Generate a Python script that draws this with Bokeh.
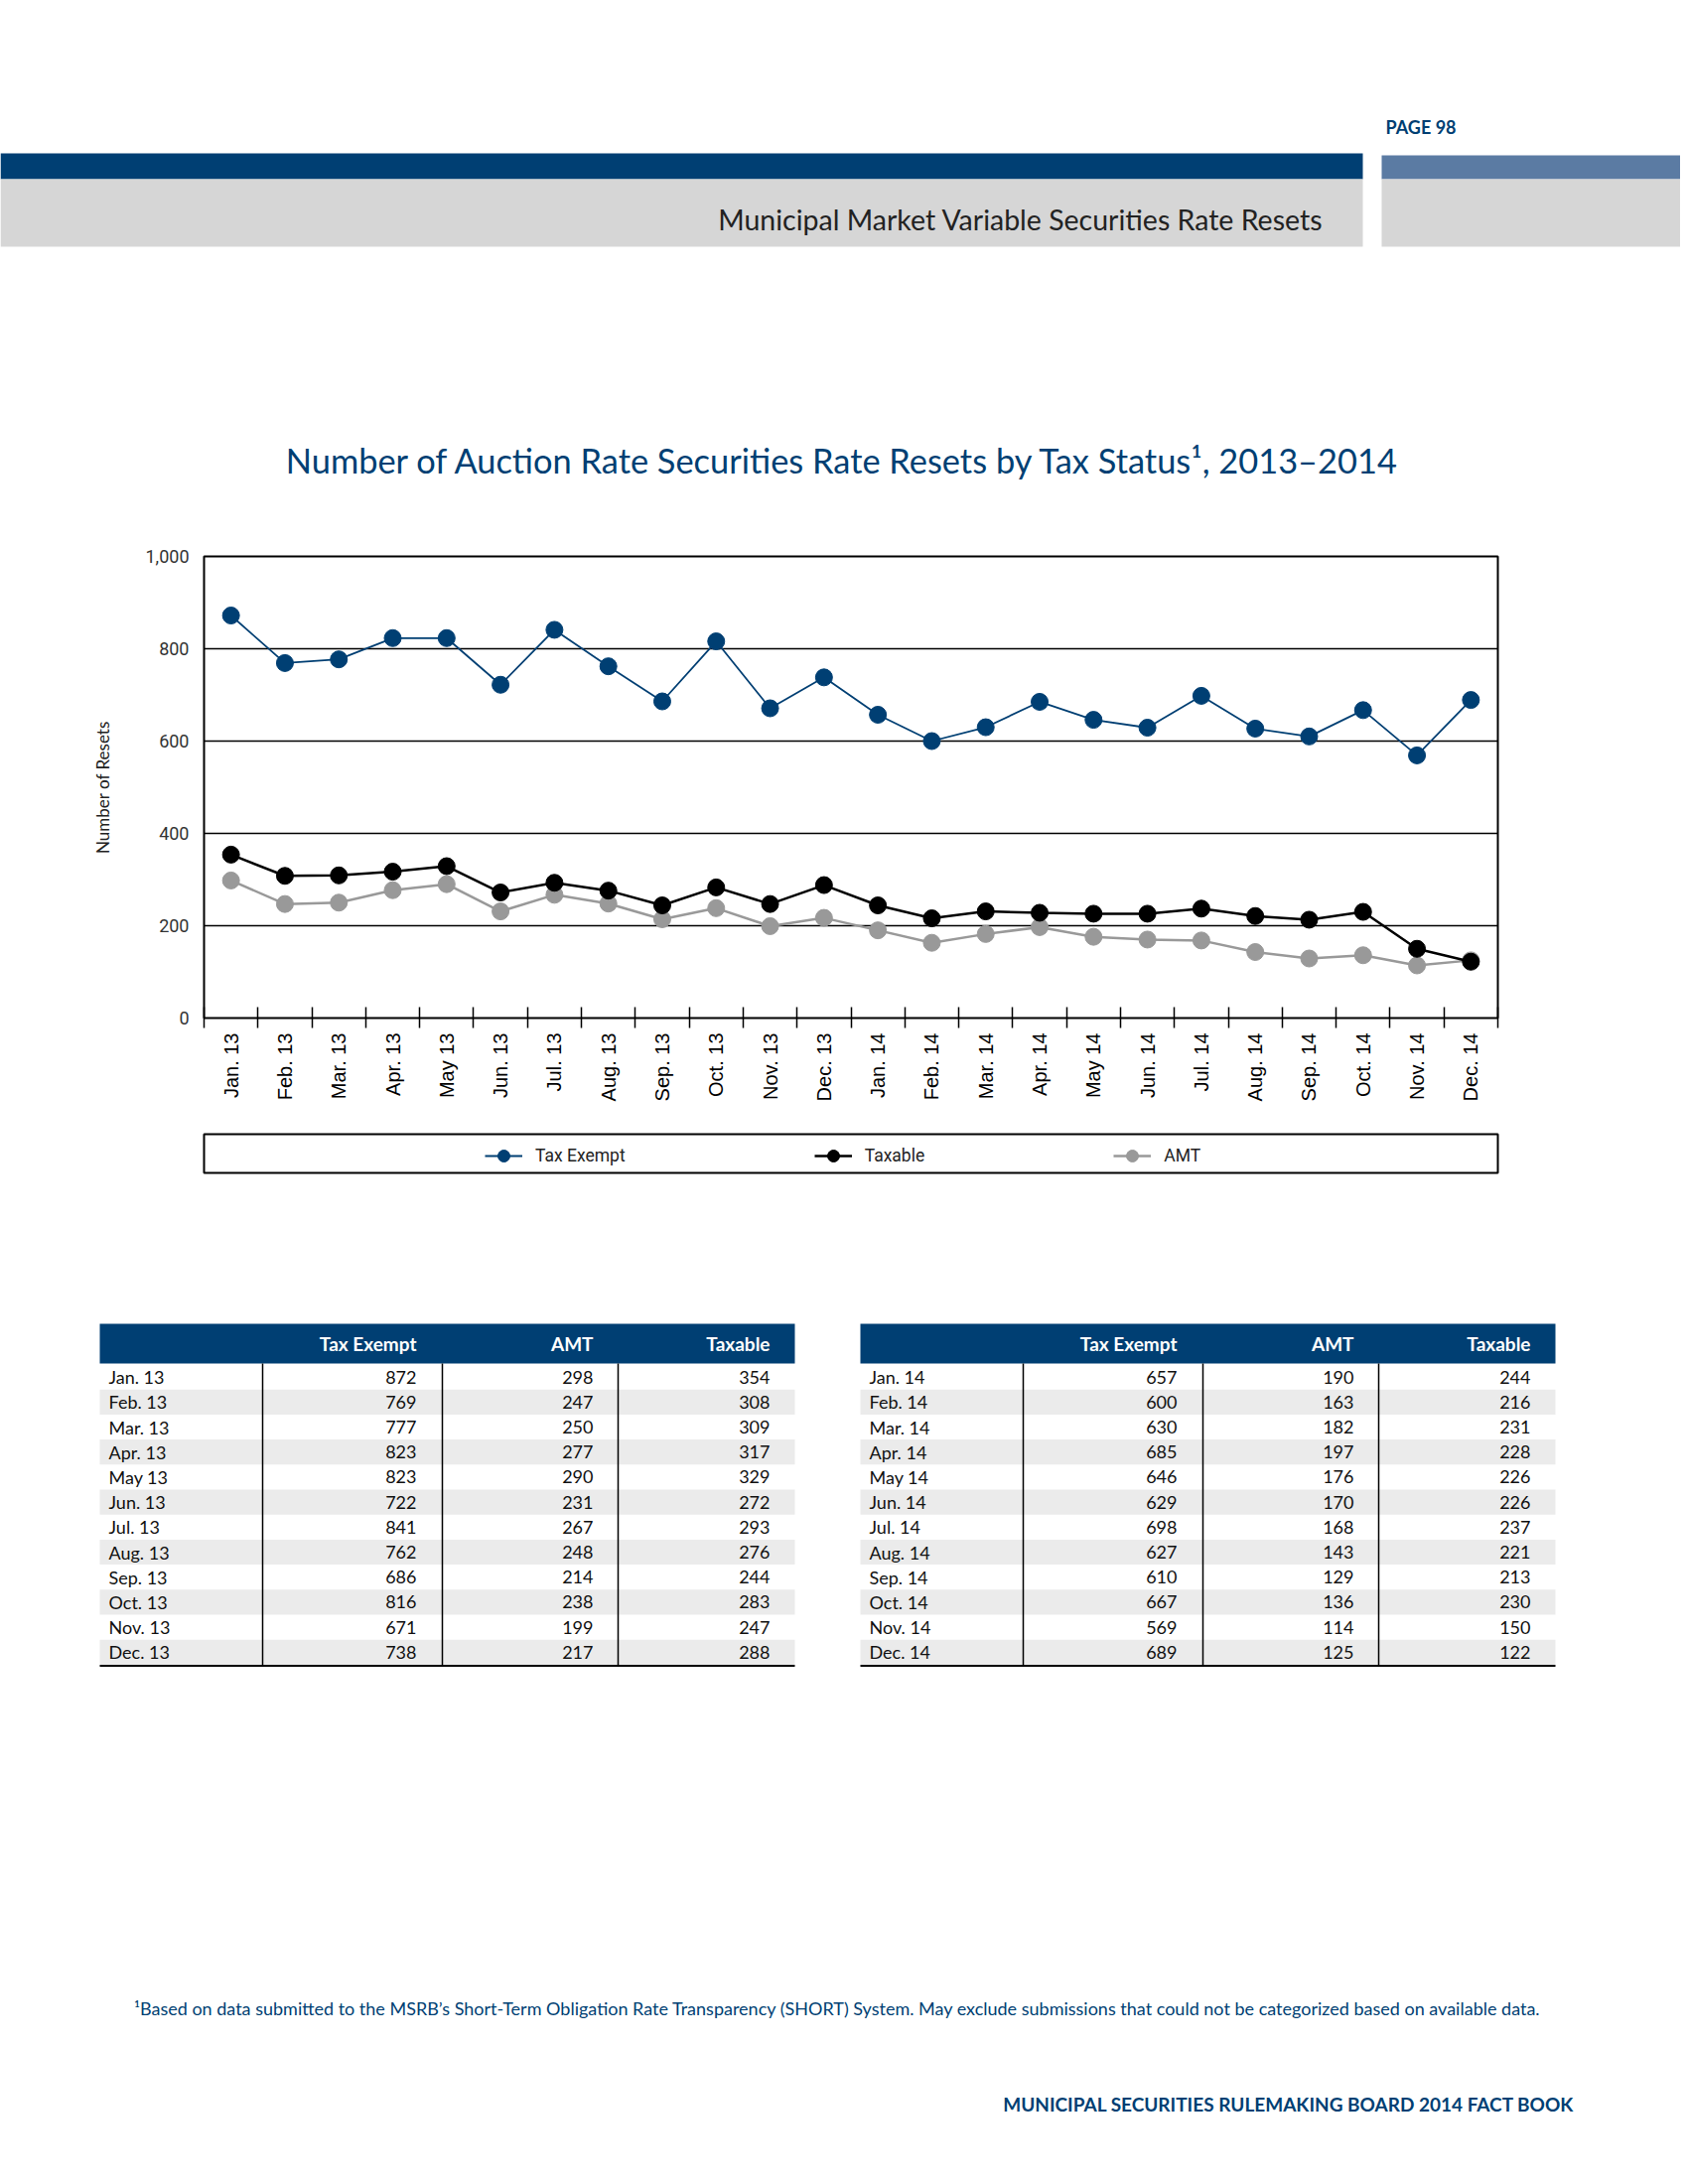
import math
from bokeh.plotting import figure
from bokeh.models import (Range1d, FixedTicker, NumeralTickFormatter, Legend,
                          LegendItem, ColumnDataSource)
from bokeh.layouts import column
from bokeh.core.properties import value
from bokeh.embed import file_html
from bokeh.resources import INLINE

# ---------------- data ----------------
months = ["Jan. 13", "Feb. 13", "Mar. 13", "Apr. 13", "May 13", "Jun. 13",
          "Jul. 13", "Aug. 13", "Sep. 13", "Oct. 13", "Nov. 13", "Dec. 13",
          "Jan. 14", "Feb. 14", "Mar. 14", "Apr. 14", "May 14", "Jun. 14",
          "Jul. 14", "Aug. 14", "Sep. 14", "Oct. 14", "Nov. 14", "Dec. 14"]
tax_exempt = [872, 769, 777, 823, 823, 722, 841, 762, 686, 816, 671, 738,
              657, 600, 630, 685, 646, 629, 698, 627, 610, 667, 569, 689]
amt = [298, 247, 250, 277, 290, 231, 267, 248, 214, 238, 199, 217,
       190, 163, 182, 197, 176, 170, 168, 143, 129, 136, 114, 125]
taxable = [354, 308, 309, 317, 329, 272, 293, 276, 244, 283, 247, 288,
           244, 216, 231, 228, 226, 226, 237, 221, 213, 230, 150, 122]
legend_names = ["Tax Exempt", "Taxable", "AMT"]
table_headers = ["Tax Exempt", "AMT", "Taxable"]
y_ticks = [0, 200, 400, 600, 800, 1000]
grid_values = [200, 400, 600, 800]

page_label = "PAGE 98"
section_title = "Municipal Market Variable Securities Rate Resets"
chart_title = "Number of Auction Rate Securities Rate Resets by Tax Status\u00b9, 2013\u20132014"
y_label = "Number of Resets"
footnote = ("\u00b9Based on data submitted to the MSRB\u2019s Short-Term Obligation Rate "
            "Transparency (SHORT) System. May exclude submissions that could not be "
            "categorized based on available data.")
footer = "MUNICIPAL SECURITIES RULEMAKING BOARD 2014 FACT BOOK"

# ---------------- styles ----------------
NAVY = "#003f73"
STEEL = "#5b7ba3"
LIGHTGRAY = "#d6d6d6"
AMT_GRAY = "#999999"
BAND = "#ebebeb"
W = 1692
FRAME_L, FRAME_R = 205, 1508


def page_fig(y_top, y_bottom):
    return figure(width=W, height=int(y_bottom - y_top),
                  x_range=Range1d(0, W), y_range=Range1d(y_bottom, y_top),
                  x_axis_type=None, y_axis_type=None, toolbar_location=None,
                  output_backend="svg", min_border=0, outline_line_color=None,
                  frame_align=False)


# ---------------- header ----------------
hdr = page_fig(0, 520)
hdr.quad(left=[0, 1391], right=[1372, 1700], top=[154, 156], bottom=[180, 180],
         fill_color=[NAVY, STEEL], line_color=None)
hdr.quad(left=[0, 1391], right=[1372, 1700], top=[180, 180], bottom=[248, 248],
         fill_color=LIGHTGRAY, line_color=None)
hdr.text(x=[1395], y=[127], text=[page_label], text_font=value("Lato"),
         text_font_style="bold", text_font_size="18px", text_color=NAVY,
         text_align="left", text_baseline="middle")
hdr.text(x=[1332], y=[220], text=[section_title], text_font=value("Lato"),
         text_font_size="28.5px", text_color="#222222",
         text_align="right", text_baseline="middle")
hdr.text(x=[849], y=[463], text=[chart_title], text_font=value("Lato"),
         text_font_size="34.4px", text_color=NAVY,
         text_align="center", text_baseline="middle")

# ---------------- chart ----------------
xs = [i + 0.5 for i in range(len(months))]
src = ColumnDataSource(dict(x=xs, month=months, tax_exempt=tax_exempt,
                            amt=amt, taxable=taxable))

p = figure(width=W, height=610, x_range=Range1d(0, len(months)),
           y_range=Range1d(0, 1000), toolbar_location=None, output_backend="svg",
           title=None, min_border_left=FRAME_L, min_border_right=W - FRAME_R,
           min_border_top=40, min_border_bottom=105, frame_align=False)
p.outline_line_color = "black"
p.outline_line_width = 2
p.xgrid.visible = False
p.ygrid.ticker = FixedTicker(ticks=grid_values)
p.ygrid.grid_line_color = "black"
p.ygrid.grid_line_width = 1.5

xa = p.xaxis[0]
xa.ticker = FixedTicker(ticks=xs, minor_ticks=list(range(len(months) + 1)))
xa.major_label_overrides = {x: m for x, m in zip(xs, months)}
xa.major_tick_in = 0
xa.major_tick_out = 0
xa.minor_tick_in = 11
xa.minor_tick_out = 10
xa.minor_tick_line_color = "black"
xa.minor_tick_line_width = 1.5
xa.axis_line_color = None
xa.major_label_orientation = math.pi / 2
xa.major_label_standoff = 5
xa.major_label_text_font = "Liberation Sans"
xa.major_label_text_font_size = "20px"
xa.major_label_text_color = "black"

ya = p.yaxis[0]
ya.ticker = FixedTicker(ticks=y_ticks)
ya.formatter = NumeralTickFormatter(format="0,0")
ya.major_tick_in = 0
ya.major_tick_out = 0
ya.minor_tick_line_color = None
ya.axis_line_color = None
ya.major_label_standoff = 15
ya.major_label_text_font = "Roboto"
ya.major_label_text_font_size = "18px"
ya.major_label_text_color = "#333333"
ya.axis_label = y_label
ya.axis_label_text_font = "Lato"
ya.axis_label_text_font_style = "normal"
ya.axis_label_text_font_size = "17px"
ya.axis_label_text_color = "#222222"
ya.axis_label_standoff = 29

styles = {"tax_exempt": (NAVY, 1.8), "taxable": ("black", 2.5), "amt": (AMT_GRAY, 2.5)}
for key in ["amt", "taxable", "tax_exempt"]:
    c, lw = styles[key]
    p.line("x", key, source=src, line_color=c, line_width=lw)
    p.scatter("x", key, source=src, size=17, fill_color=c, line_color=c)

# ---------------- legend ----------------
lg = figure(width=W, height=70, x_range=Range1d(0, 1), y_range=Range1d(0, 1),
            x_axis_type=None, y_axis_type=None, toolbar_location=None,
            output_backend="svg", title=None, min_border_left=FRAME_L,
            min_border_right=W - FRAME_R, min_border_top=12, min_border_bottom=19,
            outline_line_color="black", outline_line_width=2, frame_align=False)
items = []
nan = float("nan")
for name, key in zip(legend_names, ["tax_exempt", "taxable", "amt"]):
    c, lw = styles[key]
    r1 = lg.line(x=[nan], y=[nan], line_color=c, line_width=lw)
    r2 = lg.scatter(x=[nan], y=[nan], size=12, fill_color=c, line_color=c)
    items.append(LegendItem(label=name, renderers=[r1, r2], index=0))
legend = Legend(items=items, orientation="horizontal", location=(283, 2),
                spacing=190, glyph_width=38, glyph_height=30, label_standoff=13,
                label_text_font="Roboto", label_text_font_size="17.5px",
                label_text_color="#222222", border_line_color=None,
                background_fill_alpha=0, padding=2, margin=0)
lg.add_layout(legend)

# ---------------- tables + footnotes ----------------
bot = page_fig(1200, 2192)
HEAD_TOP, HEAD_BOT = 1333, 1373
ROW_TOP, RH = 1374, 25.2
TW = 700
DIVIDERS = [164, 345, 522]
VAL_RIGHT = [319, 497, 675]
n_rows = 12
row_bottom = ROW_TOP + n_rows * RH

for left, sl in [(100, slice(0, 12)), (866, slice(12, 24))]:
    mo = months[sl]
    cols = [tax_exempt[sl], amt[sl], taxable[sl]]
    bot.quad(left=[left], right=[left + TW], top=[HEAD_TOP], bottom=[HEAD_BOT],
             fill_color=NAVY, line_color=None)
    odd = [i for i in range(n_rows) if i % 2 == 1]
    bot.quad(left=[left] * len(odd), right=[left + TW] * len(odd),
             top=[ROW_TOP + i * RH for i in odd],
             bottom=[ROW_TOP + (i + 1) * RH for i in odd],
             fill_color=BAND, line_color=None)
    bot.segment(x0=[left + d for d in DIVIDERS], x1=[left + d for d in DIVIDERS],
                y0=[HEAD_BOT] * 3, y1=[row_bottom + 1] * 3,
                line_color="black", line_width=1.5)
    bot.segment(x0=[left], x1=[left + TW], y0=[row_bottom + 1], y1=[row_bottom + 1],
                line_color="black", line_width=2)
    bot.text(x=[left + v for v in VAL_RIGHT], y=[(HEAD_TOP + HEAD_BOT) / 2] * 3,
             text=table_headers, text_font=value("Lato"), text_font_style="bold",
             text_font_size="19px", text_color="white", text_align="right",
             text_baseline="middle")
    ycent = [ROW_TOP + (i + 0.5) * RH for i in range(n_rows)]
    bot.text(x=[left + 9] * n_rows, y=ycent, text=mo, text_font=value("Lato"),
             text_font_size="18px", text_color="#111111", text_align="left",
             text_baseline="middle")
    for v_right, vals in zip(VAL_RIGHT, cols):
        bot.text(x=[left + v_right] * n_rows, y=ycent, text=[str(v) for v in vals],
                 text_font=value("Lato"), text_font_size="18px",
                 text_color="#111111", text_align="right", text_baseline="middle")

bot.text(x=[843], y=[2022], text=[footnote], text_font=value("Lato"),
         text_font_size="18px", text_color=NAVY, text_align="center",
         text_baseline="middle")
bot.text(x=[1585], y=[2119], text=[footer], text_font=value("Lato"),
         text_font_style="bold", text_font_size="19px", text_color=NAVY,
         text_align="right", text_baseline="middle")

layout = column(hdr, p, lg, bot, spacing=0)
open("out.html", "w").write(file_html(layout, INLINE))
